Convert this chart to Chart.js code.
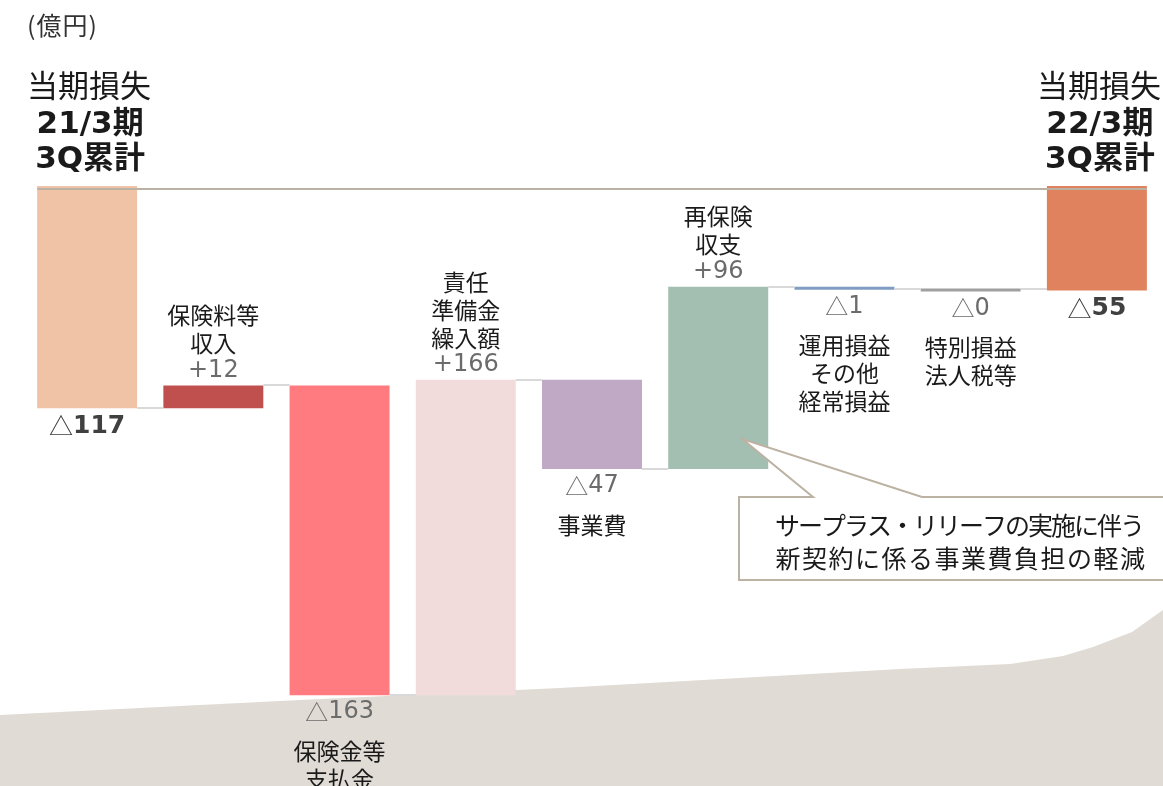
<!DOCTYPE html>
<html lang="ja">
<head>
<meta charset="utf-8">
<title>当期損失 増減要因</title>
<script src="https://cdn.jsdelivr.net/npm/chart.js@4.4.1/dist/chart.umd.min.js"></script>
<style>
  html, body { margin: 0; padding: 0; background: #fff; }
  canvas { display: block; }
</style>
</head>
<body>
<canvas id="chart" width="1163" height="786"></canvas>
<script>
// ==== Data ====
const categories = [
  ['当期損失', '21/3期', '3Q累計'],
  ['保険料等', '収入'],
  ['保険金等', '支払金'],
  ['責任', '準備金', '繰入額'],
  ['事業費'],
  ['再保険', '収支'],
  ['運用損益', 'その他', '経常損益'],
  ['特別損益', '法人税等'],
  ['当期損失', '22/3期', '3Q累計']
];
const startLoss = -117;
const changes = [12, -163, 166, -47, 96, -1, -0.3];
const endLoss = -55;
const barColors = ['#f0c3a7', '#c0504d', '#ff7b7f', '#f2dbdb', '#c0a9c5', '#a3bfb1', '#7f9dc3', '#a0a0a0', '#e0825e'];
const unitLabel = '(億円)';
const noteLines = ['サープラス・リリーフの実施に伴う', '新契約に係る事業費負担の軽減'];

// ==== Build floating ranges ====
const ranges = [[0, startLoss]];
const levels = [startLoss];
let level = startLoss;
changes.forEach(c => {
  ranges.push([level, level + c]);
  level += c;
  levels.push(level);
});
ranges.push([0, endLoss]);
const shown = [startLoss, ...changes, endLoss];

const CJK = '"Noto Sans CJK JP", sans-serif';
const NUM = '"DejaVu Sans", "Noto Sans CJK JP", sans-serif';

// sign drawn with the CJK font (wide triangle), digits with DejaVu
function drawValue(ctx, v, x, y, size, bold, color) {
  const sign = v < 0 ? '△' : '+';
  const digits = String(Math.round(Math.abs(v)));
  const signFont = v < 0 ? (size - 1) + 'px ' + CJK : size + 'px ' + NUM;
  const digitFont = (bold ? 'bold ' : '') + size + 'px ' + NUM;
  ctx.font = signFont;
  const w1 = ctx.measureText(sign).width;
  ctx.font = digitFont;
  const w2 = ctx.measureText(digits).width;
  let left = x - (w1 + w2) / 2;
  ctx.fillStyle = color;
  ctx.textAlign = 'left';
  ctx.font = signFont;
  ctx.fillText(sign, left, y);
  ctx.font = digitFont;
  ctx.fillText(digits, left + w1, y);
  ctx.textAlign = 'center';
}

// ==== Background shape ====
const backdrop = {
  id: 'backdrop',
  beforeDraw(chart) {
    const ctx = chart.ctx;
    ctx.save();
    ctx.fillStyle = '#e0dcd5';
    ctx.beginPath();
    ctx.moveTo(0, 715);
    ctx.lineTo(300, 700);
    ctx.lineTo(560, 688);
    ctx.lineTo(900, 669);
    ctx.lineTo(1010, 664);
    ctx.lineTo(1063, 656);
    ctx.lineTo(1093, 647);
    ctx.lineTo(1132, 632);
    ctx.lineTo(1163, 610);
    ctx.lineTo(1163, 786);
    ctx.lineTo(0, 786);
    ctx.closePath();
    ctx.fill();

    ctx.fillStyle = '#333';
    ctx.font = '25px ' + CJK;
    ctx.textBaseline = 'middle';
    ctx.letterSpacing = '1px';
    ctx.fillText(unitLabel, 27, 25);
    ctx.letterSpacing = '0px';
    ctx.restore();
  }
};

// ==== Connectors, labels, callout ====
const decorations = {
  id: 'decorations',
  afterDatasetsDraw(chart) {
    const ctx = chart.ctx;
    const y = chart.scales.y;
    const bars = chart.getDatasetMeta(0).data;
    ctx.save();

    // connectors between bars
    ctx.strokeStyle = '#d9d9d9';
    ctx.lineWidth = 2;
    for (let i = 0; i < bars.length - 1; i++) {
      const a = bars[i], b = bars[i + 1];
      const py = Math.round(y.getPixelForValue(levels[i]));
      ctx.beginPath();
      ctx.moveTo(a.x + a.width / 2, py);
      ctx.lineTo(b.x - b.width / 2, py);
      ctx.stroke();
    }

    // zero line across the top
    const first = bars[0], last = bars[bars.length - 1];
    const zy = y.getPixelForValue(0) + 3;
    ctx.strokeStyle = '#bcb2a3';
    ctx.beginPath();
    ctx.moveTo(first.x - first.width / 2, zy);
    ctx.lineTo(last.x + last.width / 2, zy);
    ctx.stroke();

    // labels
    ctx.textAlign = 'center';
    ctx.textBaseline = 'middle';
    bars.forEach((bar, i) => {
      const top = Math.min(bar.y, bar.base);
      const bottom = Math.max(bar.y, bar.base);
      const lines = categories[i];
      if (i === 0 || i === bars.length - 1) {
        ctx.fillStyle = '#1a1a1a';
        ctx.font = '31px ' + CJK;
        ctx.fillText(lines[0], bar.x + 2, top - 101);
        ctx.font = 'bold 31px ' + NUM;
        ctx.fillText(lines[1], bar.x + 3, top - 61);
        ctx.fillText(lines[2], bar.x + 3, top - 26);
        drawValue(ctx, shown[i], bar.x, bottom + 18, 25, true, '#404040');
      } else if (shown[i] > 0) {
        drawValue(ctx, shown[i], bar.x, top - 15, 24, false, '#6b6b6b');
        ctx.fillStyle = '#1a1a1a';
        ctx.font = '23px ' + CJK;
        lines.slice().reverse().forEach((t, k) => {
          ctx.fillText(t, bar.x, top - 42 - k * 28);
        });
      } else {
        drawValue(ctx, shown[i], bar.x, bottom + 17, 24, false, '#6b6b6b');
        ctx.fillStyle = '#1a1a1a';
        ctx.font = '23px ' + CJK;
        lines.forEach((t, k) => {
          ctx.fillText(t, bar.x, bottom + 56 + k * 28);
        });
      }
    });

    // callout for reinsurance bar
    const re = bars[5];
    const tipX = re.x - re.width / 2 + 74;
    const tipY = Math.max(re.y, re.base) - 30;
    const bx = 739, by = 497, bw = 430, bh = 83;
    ctx.fillStyle = '#fff';
    ctx.strokeStyle = '#bcb2a3';
    ctx.lineWidth = 2;
    ctx.beginPath();
    ctx.moveTo(bx, by);
    ctx.lineTo(813, by);
    ctx.lineTo(tipX, tipY);
    ctx.lineTo(922, by);
    ctx.lineTo(bx + bw, by);
    ctx.lineTo(bx + bw, by + bh);
    ctx.lineTo(bx, by + bh);
    ctx.closePath();
    ctx.fill();
    ctx.stroke();
    ctx.fillStyle = '#1a1a1a';
    ctx.font = '25px ' + CJK;
    ctx.letterSpacing = '-2px';
    ctx.fillText(noteLines[0], 959, 525);
    ctx.letterSpacing = '1.5px';
    ctx.fillText(noteLines[1], 961, 558);
    ctx.letterSpacing = '0px';

    ctx.restore();
  }
};

// ==== Chart ====
new Chart(document.getElementById('chart'), {
  type: 'bar',
  data: {
    labels: categories.map(c => c.join('')),
    datasets: [{
      data: ranges,
      backgroundColor: barColors,
      borderWidth: 0,
      minBarLength: 3,
      barPercentage: 0.792,
      categoryPercentage: 1
    }]
  },
  options: {
    responsive: false,
    animation: false,
    devicePixelRatio: 1,
    layout: { padding: { left: 24, right: 3, top: 0, bottom: 0 } },
    plugins: { legend: { display: false }, tooltip: { enabled: false } },
    scales: {
      x: { display: false },
      y: { display: false, min: -315.8, max: 97.9 }
    }
  },
  plugins: [backdrop, decorations]
});
</script>
</body>
</html>
